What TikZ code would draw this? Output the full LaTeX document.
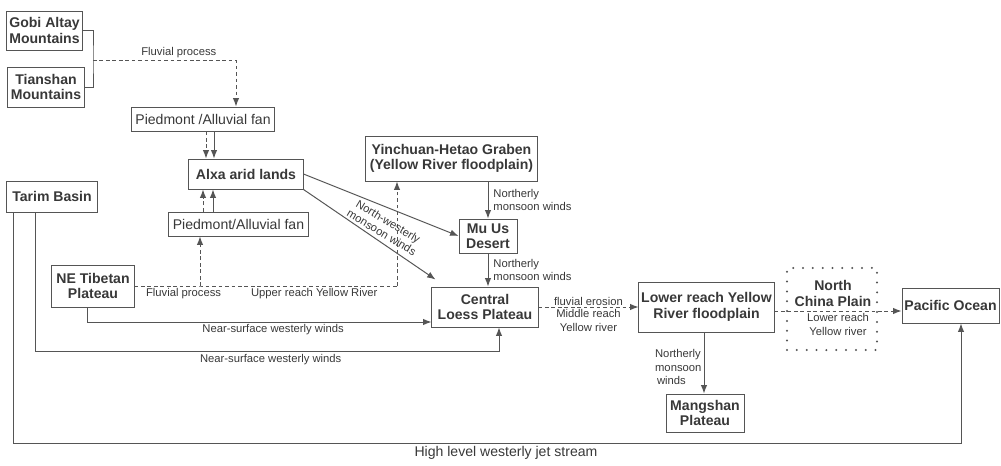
\documentclass[tikz,border=0pt]{standalone}
\usepackage{fontspec}
\setmainfont{Liberation Sans}
\usetikzlibrary{positioning, arrows.meta, calc}
\definecolor{inkgray}{HTML}{383838}
\definecolor{wiregray}{HTML}{555555}

\begin{document}
\begin{tikzpicture}[
    x=0.025cm, y=-0.025cm,
    every node/.style={text=inkgray},
    area/.style={draw=wiregray, line width=0.7pt, align=center, inner sep=1pt,
                 font=\fontsize{10}{11}\selectfont\bfseries},
    fan/.style={area, font=\fontsize{10}{11}\selectfont},
    lbl/.style={font=\fontsize{8}{9.5}\selectfont, align=center, inner sep=1.5pt},
    wind/.style={draw=wiregray, line width=0.7pt},
    flow/.style={wind, dash pattern=on 2.6pt off 2pt},
    dots/.style={draw=wiregray, line width=1.6pt, line cap=round,
                 dash pattern=on 0pt off 7pt},
    >={Latex[length=6pt,width=4.6pt]},
  ]
    \useasboundingbox (0,0) rectangle (1001,466);

    % source areas
    \node[area, minimum width=1.875cm, minimum height=0.975cm] (gobi) at (44.5,30.5) {Gobi Altay\\Mountains};
    \node[area, minimum width=1.9cm, minimum height=1cm] (tian) at (46,87) {Tianshan\\Mountains};
    \node[fan, minimum width=3.55cm, minimum height=0.6cm] (piedN) at (203,119) {Piedmont /Alluvial fan};
    \node[area, minimum width=2.85cm, minimum height=0.75cm] (alxa) at (246,174) {Alxa arid lands};
    \node[area, minimum width=2.25cm, minimum height=0.775cm] (tarim) at (52,196.5) {Tarim Basin};
    \node[fan, minimum width=3.475cm, minimum height=0.6cm] (piedS) at (238.5,224) {Piedmont/Alluvial fan};
    \node[area, minimum width=2.05cm, minimum height=1.05cm] (tibet) at (93,286) {NE Tibetan\\Plateau};
    \node[area, minimum width=4.275cm, minimum height=1.125cm] (yinch) at (451.5,158.5) {Yinchuan-Hetao Graben\\(Yellow River floodplain)};
    \node[area, minimum width=1.45cm, minimum height=0.85cm] (muus) at (488,236) {Mu Us\\Desert};

    % sinks
    \node[area, minimum width=2.65cm, minimum height=1cm] (loess) at (485,307) {Central\\Loess Plateau};
    \node[area, minimum width=3.375cm, minimum height=1.25cm] (lower) at (706.5,307) {Lower reach Yellow\\River floodplain};
    \node[area, minimum width=1.95cm, minimum height=0.95cm] (mang) at (705,413) {Mangshan\\Plateau};
    \node[dots, minimum width=2.25cm, minimum height=2.05cm] (ncp) at (832,309) {};
    \node[area, draw=none] (ncpname) at (833,293.5) {North\\China Plain};
    \node[area, minimum width=2.425cm, minimum height=0.875cm] (pacific) at (950.5,305.5) {Pacific Ocean};

    % mountains -> piedmont
    \coordinate (brace) at (93,60);
    \draw[wind] (gobi.east) -| (brace) |- (tian.east);
    \draw[flow,->] (brace) -| node[lbl, pos=0.3, above] {Fluvial process} ($(piedN.north)+(33,0)$);

    % piedmont fans <-> Alxa
    \coordinate (nd) at ($(piedN.south)+(3,0)$);
    \coordinate (ns) at ($(piedN.south)+(11,0)$);
    \draw[flow,->] (nd) -- (nd |- alxa.north);
    \draw[wind,->] (ns) -- (ns |- alxa.north);
    \coordinate (sd) at ($(piedS.north)+(-35.5,0)$);
    \coordinate (ss) at ($(piedS.north)+(-25.5,0)$);
    \draw[flow,->] (sd) -- (sd |- alxa.south);
    \draw[wind,->] (ss) -- (ss |- alxa.south);

    % NE Tibetan Plateau, fluvial
    \coordinate (tibfork) at ($(piedS.south)+(-38.5,0)$);
    \coordinate (yinfork) at ($(yinch.south)+(-54.5,0)$);
    \draw[flow] (tibet.east)
      -- node[lbl, pos=0.75, below] {Fluvial process} (tibfork |- tibet.east)
      -- node[lbl, pos=0.58, below] {Upper reach Yellow River} (yinfork |- tibet.east);
    \draw[flow,->] (tibfork |- tibet.east) -- (tibfork);
    \draw[flow,->] (yinfork |- tibet.east) -- (yinfork);

    % monsoon winds
    \coordinate (loesstip) at ($(loess.north west)+(4,-7)$);
    \draw[wind,->] (alxa.east) -- (muus.west);
    \draw[wind,->] (alxa.south east) -- (loesstip);
    \node[lbl, rotate=-31, inner sep=0pt, font=\fontsize{8}{9}\selectfont] (nwlbl) at (385,227) {North-westerly\\monsoon winds};
    \draw[wind,->] (muus.north |- yinch.south) -- node[lbl, right, align=left, xshift=2pt] {Northerly\\monsoon winds} (muus.north);
    \draw[wind,->] (muus.south) -- node[lbl, right, align=left, xshift=2pt] {Northerly\\monsoon winds} (muus.south |- loess.north);
    \coordinate (mangin) at ($(lower.south)+(-2.5,0)$);
    \draw[wind,->] (mangin) -- node[lbl, left, align=left, yshift=-3pt] {Northerly\\monsoon\\\,winds} (mangin |- mang.north);

    % westerly winds
    \draw[wind,->] ($(tibet.south)+(-6,0)$) |- node[lbl, pos=0.77, below] {Near-surface westerly winds} ($(loess.west)+(0,15)$);
    \coordinate (tarimfoot) at ($(loess.south)+(14,24)$);
    \draw[wind,->] ($(tarim.south)+(-17,0)$) |- node[lbl, pos=0.754, below] {Near-surface westerly winds} (tarimfoot) -- (tarimfoot |- loess.south);
    \coordinate (jetfoot) at ($(pacific.south)+(10.5,120)$);
    \draw[wind,->] ($(tarim.south)+(-39,0)$) |- node[lbl, pos=0.76, below, font=\fontsize{10}{11}\selectfont] {High level westerly jet stream} (jetfoot) -- (jetfoot |- pacific.south);

    % Yellow River downstream
    \draw[flow,->] (loess.east) -- node[lbl, above, inner sep=0.5pt] {fluvial erosion} node[lbl, below] {Middle reach\\Yellow river} (lower.west);
    \coordinate (lowout) at ($(lower.east)+(0,4)$);
    \draw[flow,->] (lowout) -- node[lbl, below] {Lower reach\\Yellow river} (lowout -| pacific.west);
  \end{tikzpicture}
\end{document}
